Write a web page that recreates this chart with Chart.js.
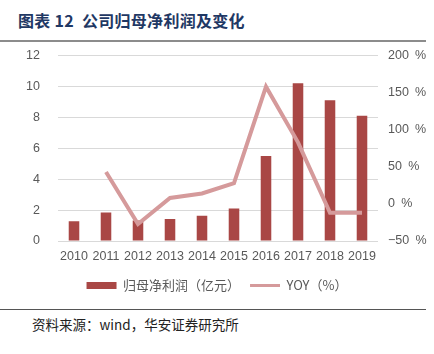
<!DOCTYPE html>
<html><head><meta charset="utf-8">
<script src="https://cdn.jsdelivr.net/npm/chart.js@4/dist/chart.umd.min.js"></script>
<style>
html,body{margin:0;padding:0;background:#fff;width:434px;height:354px;overflow:hidden;font-family:"Noto Sans CJK SC","Noto Sans",sans-serif;}
#title{position:absolute;left:18px;top:8px;font-size:16px;font-weight:bold;color:#1F3864;white-space:nowrap;letter-spacing:0.3px;}
#rule1{position:absolute;left:0;top:40px;width:426px;height:2px;background:#8c8c8c;}
#rule2{position:absolute;left:0;top:309px;width:426px;height:1px;background:#555;}
#src{position:absolute;left:32px;top:314px;font-size:13.5px;color:#222;white-space:nowrap;}
#wrap{position:absolute;left:0;top:30px;width:434px;height:276px;}
</style></head>
<body>
<div id="title">图表 12&nbsp;&nbsp;公司归母净利润及变化</div>
<div id="rule1"></div>
<div id="wrap"><canvas id="c"></canvas></div>
<div id="rule2"></div>
<div id="src">资料来源：wind，华安证券研究所</div>
<script>
const categories = ['2010','2011','2012','2013','2014','2015','2016','2017','2018','2019'];
const profit = [1.28, 1.84, 1.32, 1.43, 1.64, 2.1, 5.5, 10.2, 9.1, 8.1];
const yoy = [null, 43, -27, 8, 14, 28, 158, 83, -12, -12];
const leftTicks = [0, 2, 4, 6, 8, 10, 12];
const rightTicks = [-50, 0, 50, 100, 150, 200];
const seriesNames = ['归母净利润（亿元）', 'YOY（%）'];

const gray = '#595959';
new Chart(document.getElementById('c'), {
  data: {
    labels: categories,
    datasets: [
      {type:'line', label: seriesNames[1], data: yoy, yAxisID:'y2', borderColor:'#D59A9B', backgroundColor:'#D59A9B', borderWidth:4, pointRadius:0, tension:0, order:0, spanGaps:false},
      {type:'bar', label: seriesNames[0], data: profit, yAxisID:'y', backgroundColor:'#A94745', barPercentage:0.33, categoryPercentage:1, order:1}
    ]
  },
  options: {
    responsive:true, maintainAspectRatio:false, animation:false,
    layout:{padding:{top:10,bottom:4,left:0,right:0}},
    plugins:{
      tooltip:{enabled:false},
      legend:{position:'bottom', reverse:true,
        labels:{usePointStyle:true, pointStyleWidth:30, boxHeight:7, padding:10, color:gray, font:{size:13, family:'"Noto Sans CJK SC"'},
          generateLabels:(chart)=>chart.data.datasets.map((d,i)=>({text:d.label, fillStyle:d.type==='bar'?d.backgroundColor:d.borderColor, strokeStyle:d.type==='bar'?d.backgroundColor:d.borderColor, lineWidth:d.type==='bar'?0:3, pointStyle:d.type==='bar'?'rect':'line', datasetIndex:i, hidden:false, fontColor:gray}))
        }
      }
    },
    scales:{
      x:{grid:{display:false, drawTicks:false}, border:{display:false}, ticks:{color:gray, padding:8, maxRotation:0, minRotation:0, autoSkip:false, font:{size:12.5, family:'"Liberation Sans", Arial'}},
         afterFit:(s)=>{s.height=28;}},
      y:{position:'left', min:0, max:12, afterBuildTicks:(s)=>{s.ticks=leftTicks.map(v=>({value:v}));},
         grid:{color:'#D9D9D9', lineWidth:1, drawTicks:false}, border:{display:false},
         ticks:{color:gray, padding:18, font:{size:12.5, family:'"Liberation Sans", Arial'}},
         afterFit:(s)=>{s.width=58;}},
      y2:{position:'right', min:-50, max:200, afterBuildTicks:(s)=>{s.ticks=rightTicks.map(v=>({value:v}));},
         grid:{display:false, drawTicks:false}, border:{display:false},
         ticks:{color:gray, padding:10, font:{size:12.5, family:'"Liberation Sans", Arial'}, callback:(v)=>(v<0?'\u2212'+Math.abs(v):v)+'\u2002%'},
         afterFit:(s)=>{s.width=56;}}
    }
  }
});
</script>
</body></html>
